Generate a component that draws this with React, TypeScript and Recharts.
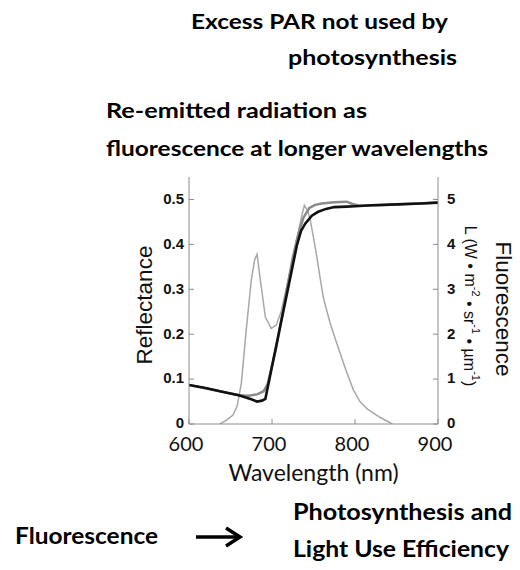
import React from 'react';
import { LineChart, Line, XAxis, YAxis, Label } from 'recharts';

// wavelength (nm) / reflectance, dark curve
const darkWave = [600, 620, 640, 660, 675, 682, 688, 692, 700, 710, 720, 730, 735, 740, 748, 755, 765, 775, 790, 800, 820, 850, 880, 900];
const darkRefl = [0.087, 0.08, 0.072, 0.064, 0.055, 0.05, 0.052, 0.056, 0.128, 0.218, 0.308, 0.398, 0.43, 0.446, 0.464, 0.472, 0.479, 0.483, 0.484, 0.485, 0.487, 0.489, 0.491, 0.493];

// grey reflectance curve
const greyWave = [600, 640, 660, 672, 682, 690, 695, 705, 715, 725, 732, 738, 745, 752, 760, 775, 790, 797, 805, 830, 900];
const greyRefl = [0.087, 0.072, 0.064, 0.063, 0.066, 0.073, 0.09, 0.17, 0.27, 0.37, 0.425, 0.46, 0.481, 0.488, 0.491, 0.494, 0.495, 0.49, 0.486, 0.487, 0.493];

// fluorescence spectrum (right axis)
const fluoWave = [637, 645, 653, 658, 663, 669, 675, 679, 682, 686, 692, 699, 705, 711, 717, 723, 728, 732, 736, 739, 743, 746, 750, 754, 758, 762, 770, 778, 790, 798, 806, 815, 830, 845];
const fluoVal = [0, 0.08, 0.2, 0.4, 0.9, 2.1, 3.2, 3.65, 3.78, 3.2, 2.38, 2.13, 2.2, 2.5, 3.0, 3.5, 3.95, 4.3, 4.65, 4.87, 4.75, 4.55, 4.15, 3.72, 3.25, 2.8, 2.25, 1.8, 1.15, 0.76, 0.5, 0.33, 0.15, 0];

const xTicks = [600, 700, 800, 900];
const reflTicks = [0, 0.1, 0.2, 0.3, 0.4, 0.5];
const fluoTicks = [0, 1, 2, 3, 4, 5];

const darkData = darkWave.map((w, i) => ({ w, r: darkRefl[i] }));
const greyData = greyWave.map((w, i) => ({ w, r: greyRefl[i] }));
const fluoData = fluoWave.map((w, i) => ({ w, f: fluoVal[i] }));

const axisColor = '#8c8c8c';
const tickFont = { fontFamily: 'Liberation Sans, Arial', fontWeight: 700, fontSize: 15, fill: '#111', dy: -1 };

const ReflLabel = ({ viewBox }: any) => (
  <text
    x={viewBox.x + 15}
    y={305}
    transform={`rotate(-90, ${viewBox.x + 15}, 305)`}
    textAnchor="middle"
    dominantBaseline="central"
    fontFamily="Liberation Sans, Arial"
    fontSize={22.5}
    fill="#111"
  >
    Reflectance
  </text>
);

const FluoLabel = ({ viewBox }: any) => {
  const x1 = viewBox.x + 32;
  const x2 = viewBox.x + 65;
  return (
    <g>
      <text
        x={x1}
        y={306}
        transform={`rotate(90, ${x1}, 306)`}
        textAnchor="middle"
        dominantBaseline="central"
        fontFamily="Liberation Sans, Arial"
        fontSize={16}
        fill="#111"
      >
        L (W • m<tspan dy="-6" fontSize={11}>-2</tspan>
        <tspan dy="6"> • sr</tspan>
        <tspan dy="-6" fontSize={11}>-1</tspan>
        <tspan dy="6"> • µm</tspan>
        <tspan dy="-6" fontSize={11}>-1</tspan>
        <tspan dy="6">)</tspan>
      </text>
      <text
        x={x2}
        y={309}
        transform={`rotate(90, ${x2}, 309)`}
        textAnchor="middle"
        dominantBaseline="central"
        fontFamily="Liberation Sans, Arial"
        fontSize={22.5}
        fill="#111"
      >
        Fluorescence
      </text>
    </g>
  );
};

const t = (x: number, y: number, len: number, s: string, size: number, bold = true) => (
  <text
    x={x}
    y={y}
    textLength={len}
    lengthAdjust="spacingAndGlyphs"
    fontFamily="Lato"
    fontWeight={bold ? 700 : 400}
    fontSize={size}
    fill="#000"
  >
    {s}
  </text>
);

export default function App() {
  return (
    <div style={{ position: 'absolute', left: 0, top: 0, width: 520, height: 570, background: '#fff' }}>
      <LineChart width={520} height={570} margin={{ top: 177, right: 0, bottom: 116, left: 129 }}>
        <XAxis
          xAxisId="b"
          dataKey="w"
          type="number"
          domain={[600, 900]}
          ticks={xTicks}
          allowDataOverflow
          stroke={axisColor}
          tickSize={-5}
          tickMargin={18}
          height={30}
          tick={{ fontFamily: 'Lato', fontSize: 20, fill: '#111', dx: -3 }}
        >
          <Label value="Wavelength (nm)" position="insideBottom" offset={-27} fontFamily="Lato" fontSize={23} fill="#111" />
        </XAxis>
        <XAxis
          xAxisId="t"
          orientation="top"
          dataKey="w"
          type="number"
          domain={[600, 900]}
          ticks={xTicks}
          allowDataOverflow
          stroke={axisColor}
          tickSize={-5}
          height={0}
          tick={false}
        />
        <YAxis
          yAxisId="l"
          type="number"
          domain={[0, 0.55]}
          ticks={reflTicks}
          allowDataOverflow
          width={60}
          stroke={axisColor}
          tickSize={-5}
          tickMargin={10}
          tick={tickFont}
          tickFormatter={(v: number) => (v === 0 ? '0' : String(v))}
        >
          <Label content={<ReflLabel />} />
        </YAxis>
        <YAxis
          yAxisId="r"
          orientation="right"
          type="number"
          domain={[0, 5.5]}
          ticks={fluoTicks}
          allowDataOverflow
          width={82}
          stroke={axisColor}
          tickSize={-5}
          tickMargin={14}
          tick={tickFont}
        >
          <Label content={<FluoLabel />} />
        </YAxis>
        <Line data={fluoData} xAxisId="b" yAxisId="r" dataKey="f" type="linear" stroke="#a8a8a8" strokeWidth={1.5} dot={false} isAnimationActive={false} />
        <Line data={greyData} xAxisId="b" yAxisId="l" dataKey="r" type="linear" stroke="#8a8a8a" strokeWidth={2.5} dot={false} isAnimationActive={false} />
        <Line data={darkData} xAxisId="b" yAxisId="l" dataKey="r" type="linear" stroke="#111" strokeWidth={2.6} dot={false} isAnimationActive={false} />
      </LineChart>
      <svg width={520} height={570} style={{ position: 'absolute', left: 0, top: 0, pointerEvents: 'none' }}>
        {t(191, 29, 257, 'Excess PAR not used by', 21)}
        {t(288, 65, 169, 'photosynthesis', 21)}
        {t(106, 118, 261, 'Re-emitted radiation as', 21)}
        {t(106, 156, 382, 'fluorescence at longer wavelengths', 21)}
        {t(15, 544, 143, 'Fluorescence', 22)}
        {t(293, 520, 219, 'Photosynthesis and', 22)}
        {t(293, 557, 216, 'Light Use Efficiency', 22)}
        <g stroke="#000" strokeWidth={3.5} fill="none">
          <line x1={196} y1={537} x2={239} y2={537} />
          <path d="M226 528 L240 537 L226 546" strokeLinejoin="miter" />
        </g>
      </svg>
    </div>
  );
}
